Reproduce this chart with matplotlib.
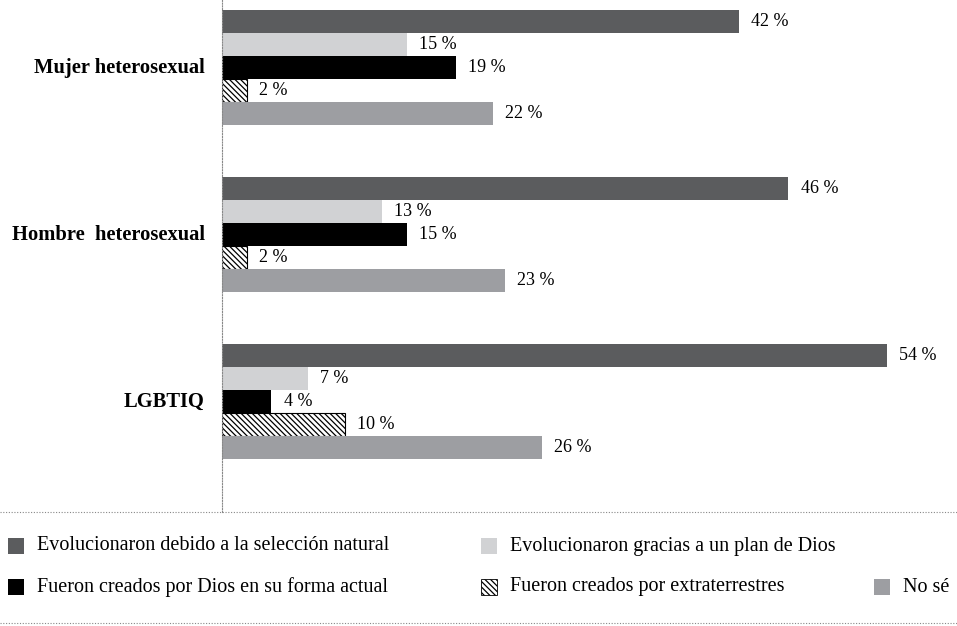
import matplotlib
matplotlib.use("Agg")
import matplotlib.pyplot as plt
from matplotlib.patches import Rectangle
from matplotlib.lines import Line2D

groups = ["Mujer heterosexual", "Hombre  heterosexual", "LGBTIQ"]
series = [
    "Evolucionaron debido a la selección natural",
    "Evolucionaron gracias a un plan de Dios",
    "Fueron creados por Dios en su forma actual",
    "Fueron creados por extraterrestres",
    "No sé",
]
values = [
    [42, 15, 19, 2, 22],
    [46, 13, 15, 2, 23],
    [54, 7, 4, 10, 26],
]
colors = ["#5b5c5e", "#d1d2d4", "#000000", "#ffffff", "#9d9ea2"]
hatches = [None, None, None, "\\\\\\\\\\\\", None]

plt.rcParams["font.family"] = ["Liberation Serif", "DejaVu Serif"]
plt.rcParams["hatch.linewidth"] = 0.9

W, H = 957, 626
fig = plt.figure(figsize=(W / 100, H / 100), dpi=100)
ax = fig.add_axes([222 / W, 1 - 512 / H, (W - 222) / W, 512 / H])

group_gap = 167 / 23
for g, vals in enumerate(values):
    center = g * group_gap
    for i, v in enumerate(vals):
        y = center + (i - 2)
        hatched = hatches[i] is not None
        ax.barh(y, v, height=1.0, color=colors[i],
                edgecolor="black" if hatched else colors[i],
                hatch=hatches[i], linewidth=0.8 if hatched else 0)
        ax.text(v + 1.0, y, f"{v} %", va="center", ha="left", fontsize=13)
    ax.text(-1.4, center, groups[g], ha="right", va="center",
            fontsize=14.8, fontweight="bold")

ax.set_xlim(0, (W - 222) / 12.31)
top = -2.935
ax.set_ylim(top + 512 / 23, top)
ax.set_xticks([])
ax.set_yticks([])
for s in ["top", "right", "bottom"]:
    ax.spines[s].set_visible(False)
ax.spines["left"].set_linestyle((0, (1, 1.5)))
ax.spines["left"].set_color("#888888")
ax.spines["left"].set_linewidth(0.8)

# dotted separators
for yy in [512, 623]:
    fig.add_artist(Line2D([0, 1], [1 - yy / H, 1 - yy / H], transform=fig.transFigure,
                          color="#888888", linewidth=0.8, linestyle=(0, (1, 1.5))))

# legend
leg_pos = [(8, 546), (481, 546), (8, 587), (481, 587), (874, 587)]
for i, (px, py) in enumerate(leg_pos):
    hatched = hatches[i] is not None
    fig.add_artist(Rectangle(((px) / W, 1 - (py + 8) / H), 16 / W, 16 / H,
                             transform=fig.transFigure, facecolor=colors[i],
                             edgecolor="black" if hatched else colors[i],
                             hatch=hatches[i], linewidth=0.6 if hatched else 0))
    fig.text((px + 29) / W, 1 - py / H, series[i], ha="left", va="center", fontsize=14.5)

fig.savefig("out.png", dpi=100)
